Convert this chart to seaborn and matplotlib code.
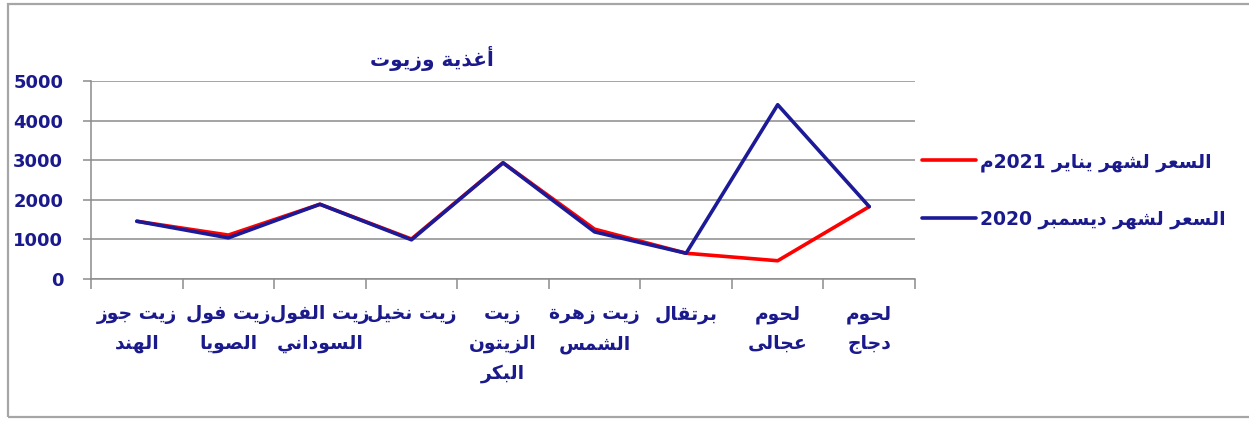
import re
import numpy as np
import pandas as pd
import matplotlib
matplotlib.use("Agg")
import matplotlib.pyplot as plt
import seaborn as sns
from matplotlib.patches import Rectangle

# البيانات
categories = ["زيت جوز\nالهند", "زيت فول\nالصويا", "زيت الفول\nالسوداني", "زيت نخيل",
              "زيت\nالزيتون\nالبكر", "زيت زهرة\nالشمس", "برتقال", "لحوم\nعجالى", "لحوم\nدجاج"]
price_jan_2021 = [1450, 1100, 1880, 1000, 2930, 1250, 640, 450, 1820]
price_dec_2020 = [1450, 1030, 1880, 980, 2930, 1180, 640, 4400, 1820]
series_names = ["السعر لشهر يناير 2021م", "السعر لشهر ديسمبر 2020"]
chart_title = "أغذية وزيوت"
y_ticks = [0, 1000, 2000, 3000, 4000, 5000]

# تشكيل الحروف العربية يدويا (matplotlib لا يدعم الربط ولا الاتجاه)
BASES = {'ء': (0xFE80, 1), 'آ': (0xFE81, 2), 'أ': (0xFE83, 2), 'ؤ': (0xFE85, 2),
         'إ': (0xFE87, 2), 'ئ': (0xFE89, 4), 'ا': (0xFE8D, 2), 'ب': (0xFE8F, 4),
         'ة': (0xFE93, 2), 'ت': (0xFE95, 4), 'ث': (0xFE99, 4), 'ج': (0xFE9D, 4),
         'ح': (0xFEA1, 4), 'خ': (0xFEA5, 4), 'د': (0xFEA9, 2), 'ذ': (0xFEAB, 2),
         'ر': (0xFEAD, 2), 'ز': (0xFEAF, 2), 'س': (0xFEB1, 4), 'ش': (0xFEB5, 4),
         'ص': (0xFEB9, 4), 'ض': (0xFEBD, 4), 'ط': (0xFEC1, 4), 'ظ': (0xFEC5, 4),
         'ع': (0xFEC9, 4), 'غ': (0xFECD, 4), 'ف': (0xFED1, 4), 'ق': (0xFED5, 4),
         'ك': (0xFED9, 4), 'ل': (0xFEDD, 4), 'م': (0xFEE1, 4), 'ن': (0xFEE5, 4),
         'ه': (0xFEE9, 4), 'و': (0xFEED, 2), 'ى': (0xFEEF, 2), 'ي': (0xFEF1, 4),
         'لا': (0xFEFB, 2)}


def shape_word(w):
    units = []
    i = 0
    while i < len(w):
        if w[i:i + 2] == "لا":
            units.append("لا")
            i += 2
        else:
            units.append(w[i])
            i += 1
    out = []
    for k, u in enumerate(units):
        if u not in BASES:
            out.append(u)
            continue
        base, n = BASES[u]
        prev = units[k - 1] if k > 0 else None
        nxt = units[k + 1] if k + 1 < len(units) else None
        jp = prev in BASES and BASES[prev][1] == 4
        jn = n == 4 and nxt in BASES
        if n == 1:
            g = base
        elif jp and jn:
            g = base + 3
        elif jp:
            g = base + 1
        elif jn:
            g = base + 2
        else:
            g = base
        out.append(chr(g))
    return "".join(out)


def ar(text):
    lines = []
    for line in text.split("\n"):
        vis = []
        for w in line.split(" "):
            runs = re.findall(r"\d+|\D+", w)
            runs = [r if r.isdigit() else shape_word(r)[::-1] for r in runs]
            vis.append("".join(reversed(runs)))
        lines.append(" ".join(reversed(vis)))
    return "\n".join(lines)


sns.set_style("white")
plt.rcParams['font.family'] = ['DejaVu Sans']
plt.rcParams['font.weight'] = 'bold'

text_color = "#1a1a8c"
grid_color = "#8c8c8c"
red = "#ff0000"
blue = "#1c1a96"

n = len(categories)
df = pd.DataFrame({
    "pos": list(range(n)) * 2,
    "price": price_jan_2021 + price_dec_2020,
    "series": [series_names[0]] * n + [series_names[1]] * n,
})

fig = plt.figure(figsize=(12.49, 4.22), dpi=100)
ax = fig.add_axes([0.0729, 0.340, 0.6597, 0.468])

sns.lineplot(data=df, x="pos", y="price", hue="series", hue_order=series_names,
             palette=[red, blue], linewidth=2.6, sort=False, ax=ax)

ax.set_xlim(-0.5, n - 0.5)
ax.set_ylim(0, 5000)
ax.set_yticks(y_ticks)
ax.set_yticklabels([str(t) for t in y_ticks], fontsize=13, fontweight='bold', color=text_color)
ax.yaxis.grid(True, color=grid_color, linewidth=1.1)
ax.set_axisbelow(True)

ax.set_xticks(np.arange(-0.5, n, 1))
ax.set_xticklabels([])
ax.set_xticks(np.arange(n), minor=True)
ax.set_xticklabels([ar(c) for c in categories], minor=True, fontsize=13.5,
                   fontweight='bold', color=text_color, linespacing=1.68, va='top')
ax.tick_params(axis='x', which='major', direction='out', length=7, width=1.1, color=grid_color)
ax.tick_params(axis='x', which='minor', length=0, pad=19)
ax.tick_params(axis='y', direction='out', length=6, width=1.1, color=grid_color, pad=14)
ax.tick_params(left=True, bottom=True)

for side in ["top", "right"]:
    ax.spines[side].set_visible(False)
for side in ["left", "bottom"]:
    ax.spines[side].set_color(grid_color)
    ax.spines[side].set_linewidth(1.1)

ax.set_xlabel("")
ax.set_ylabel("")

handles, labels = ax.get_legend_handles_labels()
leg = ax.legend(handles, [ar(l) for l in labels], loc="upper left",
                bbox_to_anchor=(922 / 1249, 1 - 152 / 422), bbox_transform=fig.transFigure,
                frameon=False, fontsize=13.5, handlelength=2.9, handletextpad=0.2,
                labelspacing=2.05, borderpad=0, borderaxespad=0)
for t in leg.get_texts():
    t.set_color(text_color)
    t.set_fontweight('bold')
for h in leg.get_lines():
    h.set_linewidth(2.6)

fig.text(432 / 1249, 1 - 58 / 422, ar(chart_title), ha="center", va="center",
         fontsize=14.5, fontweight='bold', color=text_color)

# إطار الشكل
fig.patches.append(Rectangle((8 / 1249, 5 / 422), 1.2, 1 - 9 / 422, transform=fig.transFigure,
                             fill=False, edgecolor="#a6a6a6", linewidth=1.6))

plt.savefig("out.png", dpi=100)
